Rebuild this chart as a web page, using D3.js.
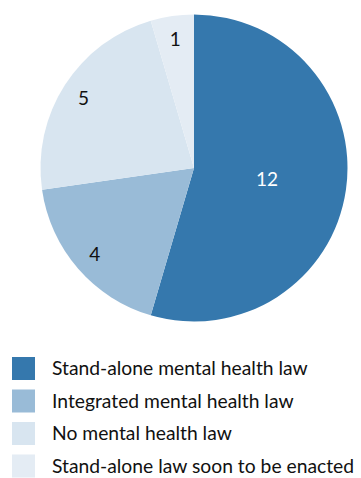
<!DOCTYPE html>
<html>
<head>
<meta charset="utf-8">
<script src="https://cdn.jsdelivr.net/npm/d3@7"></script>
<style>
  html, body { margin: 0; padding: 0; background: #fff; }
  svg { display: block; font-family: Lato, "Open Sans", sans-serif; }
</style>
</head>
<body>
<svg id="chart" width="361" height="478"></svg>
<script>
// Mental health legislation status (number of countries)
const categories = [
  "Stand-alone mental health law",
  "Integrated mental health law",
  "No mental health law",
  "Stand-alone law soon to be enacted"
];
const counts = [12, 4, 5, 1];
const colors = ["#3578ad", "#99bbd7", "#d8e5f0", "#e4ecf4"];
const labelColors = ["#ffffff", "#111111", "#111111", "#111111"];

const svg = d3.select("#chart");
const cx = 194, cy = 168, radius = 153.5;

const data = categories.map((c, i) => ({ category: c, count: counts[i], color: colors[i], labelColor: labelColors[i] }));

const pie = d3.pie().value(d => d.count).sort(null);
const arcs = pie(data);
const arc = d3.arc().innerRadius(0).outerRadius(radius);
const total = d3.sum(counts);

const g = svg.append("g").attr("transform", `translate(${cx},${cy})`);

g.selectAll("path.slice")
  .data(arcs)
  .join("path")
  .attr("class", "slice")
  .attr("d", arc)
  .attr("fill", d => d.data.color);

// large slices get their label nearer the centre
const labelArc = d => {
  const r = d.data.count / total > 0.4 ? radius * 0.48 : radius * 0.855;
  return d3.arc().innerRadius(r).outerRadius(r).centroid(d);
};

g.selectAll("text.val")
  .data(arcs)
  .join("text")
  .attr("class", "val")
  .attr("x", d => labelArc(d)[0])
  .attr("y", d => labelArc(d)[1])
  .attr("text-anchor", "middle")
  .attr("dominant-baseline", "central")
  .attr("font-size", 19)
  .attr("fill", d => d.data.labelColor)
  .text(d => d.data.count);

// legend
const legend = svg.append("g").attr("transform", "translate(12,357)");
const rows = legend.selectAll("g.row")
  .data(data)
  .join("g")
  .attr("class", "row")
  .attr("transform", (d, i) => `translate(0,${i * 32.5})`);

rows.append("rect")
  .attr("width", 23)
  .attr("height", 23)
  .attr("fill", d => d.color);

rows.append("text")
  .attr("x", 40)
  .attr("y", 18)
  .attr("font-size", 19.3)
  .attr("fill", "#111")
  .text(d => d.category);
</script>
</body>
</html>
